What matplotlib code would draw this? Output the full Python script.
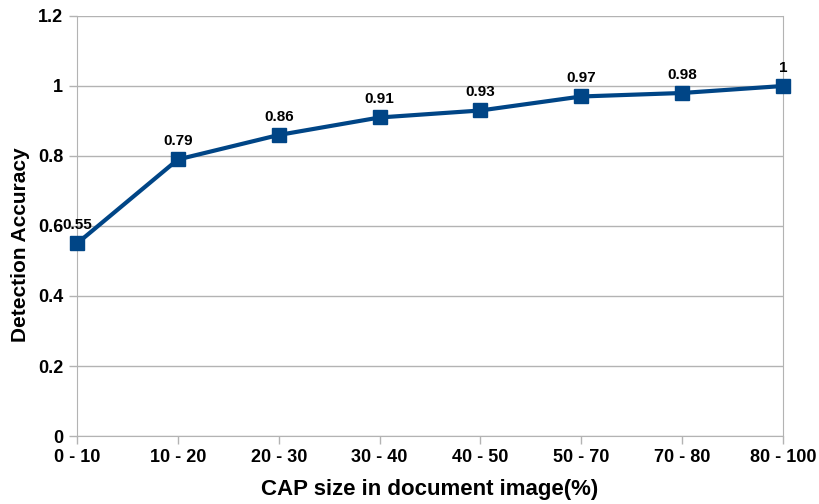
import matplotlib
matplotlib.use("Agg")
import matplotlib.pyplot as plt

# CAP size ranges and detection accuracy
categories = ["0 - 10", "10 - 20", "20 - 30", "30 - 40", "40 - 50", "50 - 70", "70 - 80", "80 - 100"]
accuracy = [0.55, 0.79, 0.86, 0.91, 0.93, 0.97, 0.98, 1]
yticks = [0, 0.2, 0.4, 0.6, 0.8, 1, 1.2]
ytick_labels = ["0", "0.2", "0.4", "0.6", "0.8", "1", "1.2"]

plt.rcParams["font.family"] = ["Liberation Sans", "DejaVu Sans"]
plt.rcParams["font.weight"] = "bold"

fig = plt.figure(figsize=(8.2, 5.04), dpi=100)
ax = fig.add_axes([0.0939, 0.1349, 0.861, 0.8334])

x = list(range(len(categories)))
ax.plot(x, accuracy, color="#004586", linewidth=3, marker="s", markersize=10, zorder=3, clip_on=False)

for xi, v in zip(x, accuracy):
    ax.annotate(f"{v:g}", (xi, v), xytext=(0, 8), textcoords="offset points",
                ha="center", va="bottom", fontsize=11, fontweight="bold")

ax.set_xlim(0, len(categories) - 1)
ax.set_ylim(0, 1.2)
ax.set_xticks(x)
ax.set_xticklabels(categories)
ax.set_yticks(yticks)
ax.set_yticklabels(ytick_labels)
ax.tick_params(axis="both", labelsize=13, color="#b3b3b3", length=6, width=1)
ax.tick_params(axis="x", pad=3)
ax.tick_params(axis="y", pad=4)

ax.grid(axis="y", color="#b3b3b3", linewidth=1)
ax.set_axisbelow(True)
for side in ["left", "bottom", "right"]:
    ax.spines[side].set_color("#b3b3b3")
ax.spines["top"].set_visible(False)

ax.set_xlabel("CAP size in document image(%)", fontsize=16, fontweight="bold", labelpad=10)
ax.set_ylabel("Detection Accuracy", fontsize=15, fontweight="bold")
ax.yaxis.set_label_coords(-0.067, 0.455)

fig.savefig("out.png", dpi=100)
